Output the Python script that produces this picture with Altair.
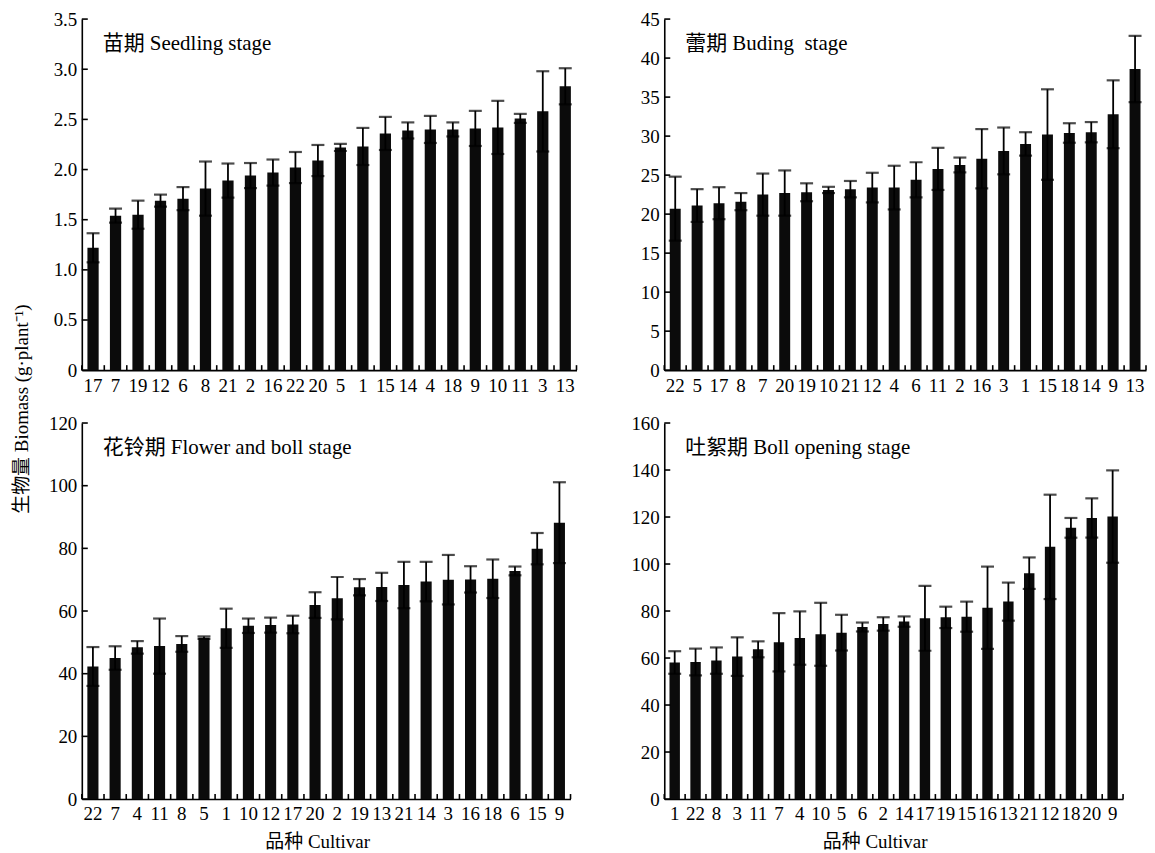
import altair as alt
import pandas as pd

FONT = "Liberation Serif, Times New Roman, Noto Sans CJK SC, serif"
BAR_COLOR = "#0b0b0b"

# ---------------- data ----------------
seedling_cultivars = ["17", "7", "19", "12", "6", "8", "21", "2", "16", "22", "20",
                      "5", "1", "15", "14", "4", "18", "9", "10", "11", "3", "13"]
seedling_mean = [1.22, 1.54, 1.55, 1.69, 1.71, 1.81, 1.89, 1.94, 1.97, 2.02, 2.09,
                 2.22, 2.23, 2.36, 2.39, 2.40, 2.40, 2.41, 2.42, 2.51, 2.58, 2.83]
seedling_sd = [0.145, 0.07, 0.14, 0.06, 0.115, 0.27, 0.17, 0.125, 0.13, 0.155, 0.155,
               0.035, 0.185, 0.165, 0.08, 0.135, 0.07, 0.175, 0.265, 0.045, 0.40, 0.18]

buding_cultivars = ["22", "5", "17", "8", "7", "20", "19", "10", "21", "12", "4",
                    "6", "11", "2", "16", "3", "1", "15", "18", "14", "9", "13"]
buding_mean = [20.7, 21.1, 21.4, 21.6, 22.5, 22.7, 22.8, 23.1, 23.2, 23.4, 23.4,
               24.4, 25.8, 26.3, 27.1, 28.1, 29.0, 30.2, 30.4, 30.5, 32.8, 38.6]
buding_sd = [4.1, 2.1, 2.05, 1.1, 2.7, 2.9, 1.15, 0.4, 1.05, 1.9, 2.8,
             2.25, 2.7, 0.95, 3.8, 3.0, 1.5, 5.8, 1.25, 1.3, 4.35, 4.25]

flower_cultivars = ["22", "7", "4", "11", "8", "5", "1", "10", "12", "17", "20",
                    "2", "19", "13", "21", "14", "3", "16", "18", "6", "15", "9"]
flower_mean = [42.3, 45.0, 48.4, 48.8, 49.5, 51.5, 54.5, 55.3, 55.5, 55.7, 61.9,
               64.1, 67.6, 67.7, 68.3, 69.4, 70.0, 70.1, 70.3, 72.8, 79.9, 88.2]
flower_sd = [6.2, 3.75, 2.0, 8.8, 2.5, 0.4, 6.25, 2.3, 2.4, 2.8, 4.1,
             6.75, 2.6, 4.5, 7.4, 6.3, 7.9, 4.2, 6.15, 1.4, 5.0, 12.9]

boll_cultivars = ["1", "22", "8", "3", "11", "7", "4", "10", "5", "6", "2",
                  "14", "17", "19", "15", "16", "13", "21", "12", "18", "20", "9"]
boll_mean = [58.1, 58.3, 58.9, 60.6, 63.7, 66.7, 68.5, 70.1, 70.8, 73.2, 74.5,
             75.5, 76.9, 77.3, 77.6, 81.4, 84.0, 96.1, 107.3, 115.4, 119.6, 120.2]
boll_sd = [4.8, 5.7, 5.6, 8.2, 3.4, 12.4, 11.35, 13.4, 7.6, 1.9, 2.85,
           2.2, 13.8, 4.55, 6.4, 17.5, 8.1, 6.7, 22.2, 4.2, 8.35, 19.65]

stage_labels = ["苗期 Seedling stage", "蕾期 Buding\u00a0 stage",
                "花铃期 Flower and boll stage", "吐絮期 Boll opening stage"]
y_ticks_seedling = [0, 0.5, 1.0, 1.5, 2.0, 2.5, 3.0, 3.5]
y_ticks_buding = [0, 5, 10, 15, 20, 25, 30, 35, 40, 45]
y_ticks_flower = [0, 20, 40, 60, 80, 100, 120]
y_ticks_boll = [0, 20, 40, 60, 80, 100, 120, 140, 160]

y_title = "生物量 Biomass (g·plant⁻¹)"
x_title = "品种 Cultivar"

YEXT = 40   # reserved space for y-axis labels
XEXT = 25   # reserved space for x-axis labels (top row)


def panel(cults, means, sds, label, yticks, width, height, decimals,
          xtitle=None, xtitle_shift=0):
    df = pd.DataFrame({"cultivar": cults, "mean": means, "sd": sds})
    df["lo"] = df["mean"] - df["sd"]
    df["hi"] = df["mean"] + df["sd"]
    tdf = pd.DataFrame({"mean": yticks})
    ymax = yticks[-1]
    step = width / len(cults)
    yscale = alt.Scale(domain=[0, ymax], nice=False, zero=True)
    xscale = alt.Scale(paddingInner=0, paddingOuter=0)

    if decimals:
        lab = "datum.value == 0 ? '0' : format(datum.value, '.1f')"
    else:
        lab = "format(datum.value, 'd')"

    xaxis_kwargs = dict(ticks=False, labelAngle=0, labelPadding=6,
                        domainWidth=1.6, labelFontSize=19)
    if xtitle:
        xaxis_kwargs.update(title=xtitle, titlePadding=9,
                            titleX=width / 2 + xtitle_shift)
    else:
        xaxis_kwargs.update(title="", minExtent=XEXT, maxExtent=XEXT)

    yaxis_kwargs = dict(values=yticks, ticks=False, labelExpr=lab, title="",
                        labelPadding=5, domainWidth=1.6, labelFontSize=19,
                        labelOverlap=False, labelBound=False,
                        minExtent=YEXT, maxExtent=YEXT)
    yaxis = alt.Axis(**yaxis_kwargs)

    X = alt.X("cultivar:N", sort=cults, scale=xscale, axis=alt.Axis(**xaxis_kwargs))
    Xn = alt.X("cultivar:N", sort=cults, scale=xscale)

    base = alt.Chart(df)
    bars = base.mark_bar(color=BAR_COLOR, width=alt.RelativeBandSize(0.5)).encode(
        x=X,
        y=alt.Y("mean:Q", scale=yscale, axis=yaxis),
    )
    err = base.mark_rule(color="black", strokeWidth=1.8).encode(
        x=Xn, y=alt.Y("lo:Q", scale=yscale, axis=yaxis), y2="hi:Q")
    cap_hi = base.mark_tick(color="black", size=13, thickness=2.2).encode(
        x=Xn, y=alt.Y("hi:Q", scale=yscale, axis=yaxis))
    cap_lo = base.mark_tick(color="black", size=13, thickness=2.2).encode(
        x=Xn, y=alt.Y("lo:Q", scale=yscale, axis=yaxis))

    # inward ticks on x axis (between bars) and y axis
    xt = base.mark_rule(color="black", strokeWidth=1.6, xOffset=-step / 2).encode(
        x=Xn, y=alt.value(height), y2=alt.value(height - 5))
    xt_end = alt.Chart(pd.DataFrame({"k": [0]})).mark_rule(
        color="black", strokeWidth=1.6).encode(
        x=alt.value(width), y=alt.value(height), y2=alt.value(height - 5))
    yt = alt.Chart(tdf).mark_rule(color="black", strokeWidth=1.6).encode(
        y=alt.Y("mean:Q", scale=yscale, axis=yaxis), x=alt.value(0), x2=alt.value(6))

    txt = alt.Chart(pd.DataFrame({"t": [label]})).mark_text(
        align="left", baseline="middle", fontSize=21, font=FONT, color="black").encode(
        x=alt.value(21), y=alt.value(25), text="t:N")

    return alt.layer(bars, err, cap_hi, cap_lo, xt, xt_end, yt, txt).properties(
        width=width, height=height)


tl = panel(seedling_cultivars, seedling_mean, seedling_sd, stage_labels[0],
           y_ticks_seedling, 496, 352, True)
tr = panel(buding_cultivars, buding_mean, buding_sd, stage_labels[1],
           y_ticks_buding, 483, 352, False)
bl = panel(flower_cultivars, flower_mean, flower_sd, stage_labels[2],
           y_ticks_flower, 490, 377, False, xtitle=x_title, xtitle_shift=-9)
br = panel(boll_cultivars, boll_mean, boll_sd, stage_labels[3],
           y_ticks_boll, 460, 377, False, xtitle=x_title, xtitle_shift=-19)

top = alt.hconcat(tl, tr, spacing=87 - YEXT)
bottom = alt.hconcat(bl, br, spacing=93 - YEXT)
grid = alt.vconcat(top, bottom, spacing=19)

ytitle_chart = alt.Chart(pd.DataFrame({"t": [y_title]})).mark_text(
    angle=270, align="center", baseline="middle", fontSize=19, font=FONT,
    color="black").encode(
    x=alt.value(11), y=alt.value(391), text="t:N").properties(width=20, height=780)

chart = alt.hconcat(ytitle_chart, grid, spacing=10).properties(
    padding={"left": 3, "top": 1, "right": 0, "bottom": 0}
).configure_view(stroke=None).configure_axis(
    grid=False, domainColor="black", labelColor="black", titleColor="black",
    labelFont=FONT, titleFont=FONT, titleFontWeight="normal", titleFontSize=19,
    labelOverlap=False,
).configure_text(font=FONT)

chart.save("out.html", embed_options={"renderer": "svg", "actions": False})
